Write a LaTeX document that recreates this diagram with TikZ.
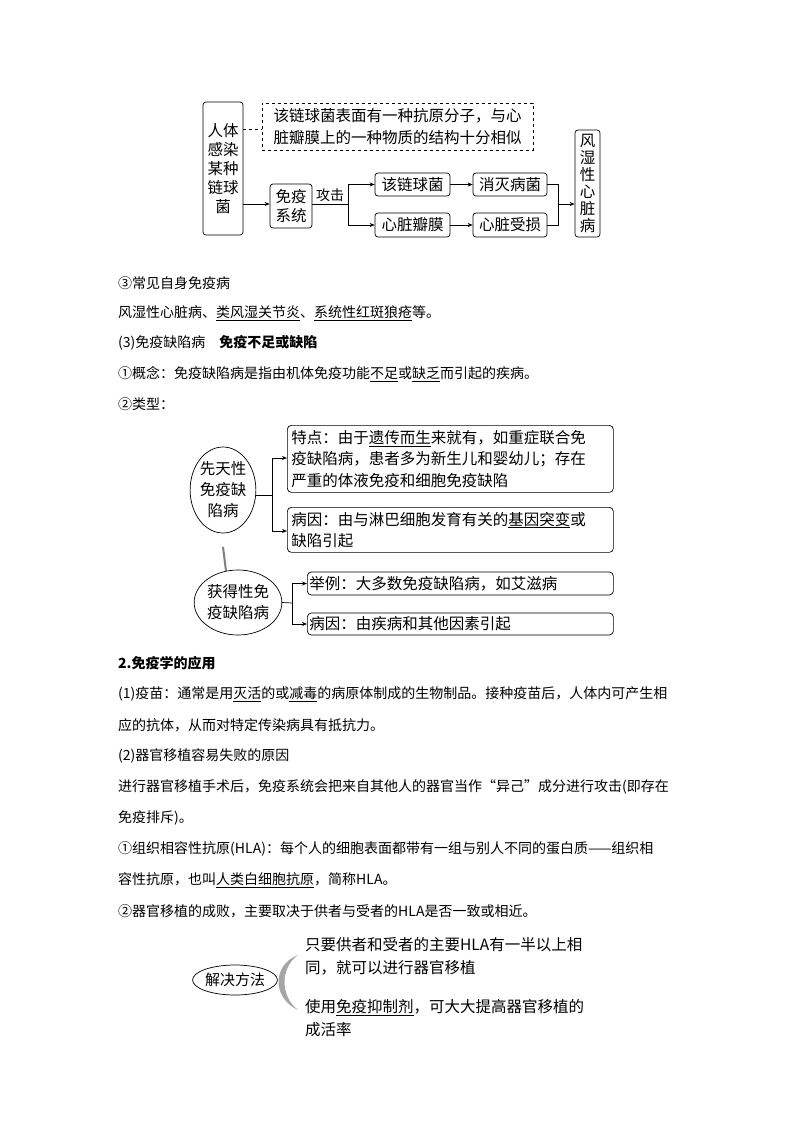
\documentclass[tikz,border=0pt]{standalone}
\usepackage{fontspec}
\setmainfont{Noto Sans CJK SC}
\usetikzlibrary{arrows.meta,shapes.geometric}
\begin{document}
\begin{tikzpicture}[x=1pt,y=-1pt,
  bx/.style={draw,rounded corners=3pt,line width=0.7pt,inner sep=2pt,font=\fontsize{15.5}{19}\selectfont,align=center},
  tb/.style={draw,rounded corners=4pt,line width=0.7pt,inner sep=4pt,font=\fontsize{15.5}{21.5}\selectfont,align=left,anchor=north west},
  el/.style={draw,ellipse,line width=0.7pt,inner sep=0pt,font=\fontsize{15.5}{21}\selectfont,align=center},
  ln/.style={line width=0.7pt},
  ar/.style={line width=0.7pt,-{Stealth[length=5pt,width=4pt]}},
  tx/.style={anchor=west,inner sep=0pt,font=\fontsize{14}{18}\selectfont}]
\useasboundingbox[fill=white] (0,0) rectangle (800,1132);
% ---------- top diagram
\node[bx,minimum width=40pt,minimum height=133pt] (ren) at (223,168.5) {人体\\感染\\某种\\链球\\菌};
\node[draw,dashed,line width=0.7pt,minimum width=271pt,minimum height=47pt,inner sep=2pt,font=\fontsize{15.5}{21.5}\selectfont,align=left] (dash) at (397.5,126.5) {该链球菌表面有一种抗原分子，与心\\脏瓣膜上的一种物质的结构十分相似};
\draw[ln,dashed] (243,129) -- (dash.west|-243,129);
\node[bx,minimum width=42pt,minimum height=44pt] (my) at (291,206) {免疫\\系统};
\draw[ar] (243,204) -- (my.west|-0,204);
\coordinate (j1) at (348,204);
\draw[ln] (my.east|-0,204) -- node[above,font=\fontsize{14}{16}\selectfont,inner sep=2pt]{攻击} (j1);
\node[bx,minimum width=75pt,minimum height=23pt] (gl) at (412.5,184.5) {该链球菌};
\node[bx,minimum width=75pt,minimum height=24pt] (xz) at (412.5,225) {心脏瓣膜};
\node[bx,minimum width=74pt,minimum height=23pt] (xm) at (510,184.5) {消灭病菌};
\node[bx,minimum width=74pt,minimum height=24pt] (xs) at (510,225) {心脏受损};
\node[bx,minimum width=25pt,minimum height=107pt,inner sep=1pt,font=\fontsize{15.5}{17}\selectfont] (fs) at (587.5,183.5) {风\\湿\\性\\心\\脏\\病};
\draw[ln] (348,184.5) -- (348,225);
\draw[ar] (348,184.5) -- (gl.west);
\draw[ar] (348,225) -- (xz.west);
\draw[ar] (gl) -- (xm);
\draw[ar] (xz) -- (xs);
\draw[ln] (xm.east) -- (558,184.5) -- (558,225) -- (xs.east);
\draw[ar] (558,204) -- (fs.west|-0,204);
% ---------- text 1
\node[tx] (t1) at (118,283) {③常见自身免疫病};
\node[tx] (t2) at (118,313) {风湿性心脏病、\underline{类风湿关节炎}、\underline{系统性红斑狼疮}等。};
\node[tx] (t3) at (118,343) {(3)免疫缺陷病\quad \textbf{免疫不足或缺陷}};
\node[tx] (t4) at (118,374) {①概念：免疫缺陷病是指由机体免疫功能\underline{不足}或\underline{缺乏}而引起的疾病。};
\node[tx] (t5) at (118,404) {②类型：};
% ---------- middle diagram
\node[el,minimum width=64pt,minimum height=86pt] (xt) at (223,490) {先天性\\免疫缺\\陷病};
\node[tb,minimum height=67pt,text width=318pt] (b1) at (287,425) {特点：由于\underline{遗传而生}来就有，如重症联合免\\疫缺陷病，患者多为新生儿和婴幼儿；存在\\严重的体液免疫和细胞免疫缺陷};
\node[tb,minimum height=45pt,text width=318pt] (b2) at (287,507) {病因：由与淋巴细胞发育有关的\underline{基因突变}或\\缺陷引起};
\draw[ln] (xt.east) ++(0,5) -- (272,495);
\draw[ln] (272,458) -- (272,531);
\draw[ar] (272,458) -- (b1.west|-0,458);
\draw[ar] (272,531) -- (b2.west|-0,531);
\node[el,minimum width=87pt,minimum height=65pt] (hd) at (238,602.5) {获得性免\\疫缺陷病};
\draw[gray,line width=2pt] (223,547) -- (226,571);
\node[tb,minimum height=23pt,inner sep=2pt,text width=302pt,anchor=west] (b3) at (307,583.5) {举例：大多数免疫缺陷病，如艾滋病};
\node[tb,minimum height=22pt,inner sep=2pt,text width=302pt,anchor=west] (b4) at (307,624) {病因：由疾病和其他因素引起};
\draw[ln] (hd.east) -- (292,603);
\draw[ln] (292,583.5) -- (292,624);
\draw[ar] (292,583.5) -- (b3.west);
\draw[ar] (292,624) -- (b4.west);
% ---------- text 2
\node[tx] (s1) at (118,663) {\textbf{2.免疫学的应用}};
\node[tx] (s2) at (118,694) {(1)疫苗：通常是用\underline{灭活}的或\underline{减毒}的病原体制成的生物制品。接种疫苗后，人体内可产生相};
\node[tx] (s3) at (118,725) {应的抗体，从而对特定传染病具有抵抗力。};
\node[tx] (s4) at (118,756) {(2)器官移植容易失败的原因};
\node[tx] (s5) at (118,787) {进行器官移植手术后，免疫系统会把来自其他人的器官当作“异己”成分进行攻击(即存在};
\node[tx] (s6) at (118,818) {免疫排斥)。};
\node[tx] (s7) at (118,849) {①组织相容性抗原(HLA)：每个人的细胞表面都带有一组与别人不同的蛋白质——组织相};
\node[tx] (s8) at (118,880) {容性抗原，也叫\underline{人类白细胞抗原}，简称HLA。};
\node[tx] (s9) at (118,911) {②器官移植的成败，主要取决于供者与受者的HLA是否一致或相近。};
% ---------- bottom diagram
\node[el,minimum width=80pt,minimum height=30pt,font=\fontsize{15}{18}\selectfont] (jj) at (235,980) {解决方法};
\fill[gray!70] (298,955) .. controls (272,965) and (272,998) .. (298,1010)
  .. controls (280,996) and (280,968) .. (298,955);
\node[tx,font=\fontsize{15.5}{23}\selectfont,align=left,anchor=west] (r1) at (305,956) {只要供者和受者的主要HLA有一半以上相\\同，就可以进行器官移植};
\node[tx,font=\fontsize{15.5}{23}\selectfont,align=left,anchor=west] (r2) at (305,1018) {使用\underline{免疫抑制剂}，可大大提高器官移植的\\成活率};
\end{tikzpicture}
\end{document}
